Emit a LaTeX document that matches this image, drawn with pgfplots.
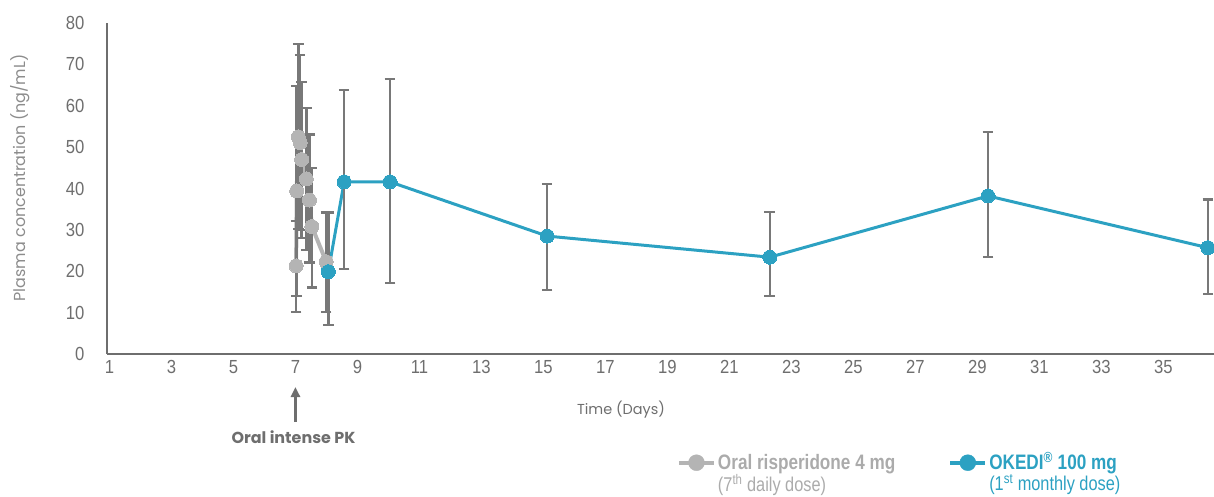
\documentclass[border=0pt]{standalone}
\usepackage{fontspec}
\usepackage{pgfplots}
\usepackage{pgfplotstable}
\pgfplotsset{compat=1.18}
\usetikzlibrary{calc,arrows.meta}

\setmainfont{Poppins}
\newfontfamily\tickfont{Liberation Sans}[FakeStretch=0.88]
\newfontfamily\legfont{Liberation Sans}[FakeStretch=0.82]

\definecolor{axisgray}{HTML}{6E6E6E}
\definecolor{labelgray}{HTML}{8C8C8C}
\definecolor{errgray}{HTML}{787878}
\definecolor{oralgray}{HTML}{B4B4B4}
\definecolor{okedi}{HTML}{2CA1C2}
\definecolor{leggray}{HTML}{ABABAB}

% time (days), mean concentration (ng/mL), upper and lower error
\pgfplotstableread{
t     c    ep   em
7.02  21.3 10.9 11.1
7.04  39.4 25.4 25.4
7.09  52.5 22.4 22.3
7.15  51.1 21.2 21.1
7.20  47.0 18.8 19.0
7.35  42.3 17.2 17.2
7.45  37.2 15.9 15.1
7.53  30.8 14.2 14.7
7.99  22.3 11.9 12.1
}\oraldata

\pgfplotstableread{
t     c    ep   em
8.06  19.9 14.3 12.9
8.57  41.6 22.2 21.1
10.05 41.6 24.9 24.4
15.12 28.5 12.6 13.0
22.30 23.4 10.9  9.4
29.34 38.2 15.5 14.8
36.43 25.7 11.7 11.2
}\okedidata

\newcommand\legtext[3]{%
  \renewcommand\arraystretch{1}%
  \begin{tabular}[t]{@{}l@{}}
  \textcolor{#1}{\legfont\bfseries\fontsize{21}{22.5}\selectfont #2}\\
  \textcolor{#1}{\legfont\fontsize{20}{22.5}\selectfont #3}
  \end{tabular}}

\begin{document}
\begin{tikzpicture}
\useasboundingbox (-107bp,-143bp) rectangle (1107bp,354bp);
\begin{axis}[
  at={(0,0)}, anchor=south west,
  scale only axis, width=1107bp, height=331bp,
  xmin=0.92, xmax=36.63, ymin=0, ymax=80,
  axis x line*=bottom, axis y line*=left,
  axis line style={axisgray, line width=2.2bp, -},
  xtick={1,3,...,35}, ytick={0,10,...,80},
  major tick length=0pt,
  /pgf/number format/assume math mode=true,
  tick label style={font=\tickfont\fontsize{19}{22}\selectfont, text=axisgray},
  xticklabel style={yshift=-3bp},
  yticklabel style={xshift=-19bp},
  ylabel={Plasma concentration (ng/mL)},
  every axis y label/.style={at={(axis description cs:-0.0786,0.532)}, rotate=90, anchor=center,
    font=\fontsize{16}{18}\selectfont, text=labelgray},
  xlabel={Time (Days)},
  every axis x label/.style={at={(axis description cs:0.4643,-0.169)}, anchor=center,
    font=\fontsize{14.5}{16}\selectfont, text=axisgray},
  legend columns=2,
  legend cell align=left,
  legend style={at={(axis description cs:0.5149,-0.290)}, anchor=north west,
    draw=none, fill=none, inner sep=0pt, outer sep=0pt,
    cells={anchor=base west},
    /tikz/every even column/.append style={column sep=51bp}},
]
\addplot[forget plot, oralgray, line width=4bp, mark=*, mark size=7bp,
  mark options={fill=oralgray, draw=oralgray, line width=0pt},
  error bars/.cd, y dir=both, y explicit,
  error bar style={errgray, line width=2.5bp},
  error mark options={rotate=90, errgray, line width=2.5bp, mark size=5.3bp}]
  table[x=t, y=c, y error plus=ep, y error minus=em] {\oraldata};
\addplot[forget plot, okedi, line width=3bp, mark=*, mark size=7bp,
  mark options={fill=okedi, draw=okedi, line width=0pt},
  error bars/.cd, y dir=both, y explicit,
  error bar style={errgray, line width=2.5bp},
  error mark options={rotate=90, errgray, line width=2.5bp, mark size=5.3bp}]
  table[x=t, y=c, y error plus=ep, y error minus=em] {\okedidata};
\addlegendimage{legend image code/.code={
  \draw[oralgray, line width=4bp] (0bp,7bp) -- (35bp,7bp);
  \fill[oralgray] (17.5bp,7bp) circle[radius=8bp];}}
\addlegendentry{\legtext{leggray}{Oral risperidone 4 mg}{(7\textsuperscript{th} daily dose)}}
\addlegendimage{legend image code/.code={
  \draw[okedi, line width=4bp] (0bp,7bp) -- (35bp,7bp);
  \fill[okedi] (17.5bp,7bp) circle[radius=8bp];}}
\addlegendentry{\legtext{okedi}{OKEDI\textsuperscript{\textregistered} 100 mg}{(1\textsuperscript{st} monthly dose)}}
\coordinate (d7) at (axis cs:7,0);
\end{axis}
\draw[axisgray, line width=2.5bp, -{Triangle[length=10bp,width=9bp]}]
  ($(d7)+(0,-68bp)$) -- ($(d7)+(0,-33bp)$);
\node[text=axisgray, font=\bfseries\fontsize{16}{18}\selectfont] at ($(d7)+(-2bp,-83bp)$) {Oral intense PK};
\end{tikzpicture}
\end{document}
